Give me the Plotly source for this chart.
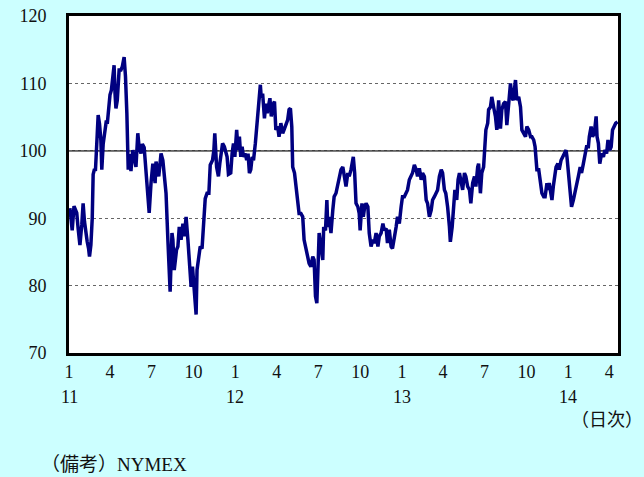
import pandas as pd
import plotly.graph_objects as go

# WTI crude oil futures (NYMEX), daily, USD per barrel.
# days: elapsed days since 2011-01-01
days = [
    2, 7, 11, 17, 20, 24, 28, 31, 34, 37, 40, 43, 45, 48, 51, 53, 56, 58, 60, 62,
    64, 67, 70, 72, 75, 79, 82, 84, 86, 88, 90, 93, 96, 99, 101, 103, 106, 110, 114, 117,
    121, 124, 127, 130, 133, 136, 139, 140, 143, 147, 151, 154, 158, 161, 165, 169, 172, 176, 180, 184,
    189, 191, 197, 202, 206, 209, 213, 217, 222, 226, 228, 231, 236, 239, 242, 246, 250, 253, 257, 261,
    264, 268, 271, 275, 279, 281, 285, 288, 292, 295, 299, 303, 307, 310, 315, 318, 320, 324, 328, 331,
    337, 341, 347, 350, 355, 358, 361, 364, 368, 371, 374, 377, 380, 383, 387, 390, 393, 396, 399, 402,
    405, 409, 412, 415, 418, 420, 422, 425, 429, 432, 435, 438, 441, 444, 447, 451, 454, 458, 461, 465,
    469, 472, 476, 480, 483, 486, 489, 491, 495, 498, 502, 505, 509, 513, 516, 520, 524, 527, 531, 535,
    538, 541, 544, 547, 549, 553, 557, 559, 563, 566, 568, 571, 575, 579, 582, 586, 590, 593, 597, 601,
    604, 608, 612, 615, 619, 624, 627, 630, 634, 637, 639, 643, 646, 649, 652, 656, 659, 663, 667, 670,
    674, 678, 681, 685, 689, 692, 696, 699, 703, 707, 710, 714, 718, 721, 725, 729, 732, 736, 740, 743,
    747, 751, 754, 758, 762, 765, 769, 773, 776, 780, 784, 787, 791, 795, 798, 802, 806, 809, 813, 817,
    820, 824, 827, 831, 835, 837, 841, 844, 847, 851, 854, 857, 860, 864, 868, 871, 875, 879, 882, 886,
    890, 893, 897, 899, 903, 906, 910, 913, 915, 919, 921, 925, 928, 932, 936, 939, 943, 947, 950, 954,
    958, 961, 965, 969, 972, 975, 980, 983, 987, 991, 994, 998, 1002, 1005, 1009, 1013, 1016, 1020, 1023, 1027,
    1031, 1034, 1038, 1042, 1045, 1049, 1051, 1054, 1058, 1060, 1063, 1067, 1069, 1073, 1076, 1080, 1084, 1087, 1091, 1093,
    1096, 1100, 1103, 1107, 1111, 1114, 1118, 1122, 1125, 1129, 1133, 1136, 1140, 1142, 1146, 1149, 1153, 1157, 1159, 1162,
    1165, 1169, 1173, 1176, 1180, 1183, 1187, 1190, 1193, 1197, 1200, 1204,
]
price = [
    91.5, 88.2, 91.8, 90.8, 88.5, 86.0, 89.0, 92.2, 89.5, 87.5, 86.5, 85.5, 84.3, 86.0, 90.0, 96.5, 97.3, 97.0, 101.5, 102.5,
    105.3, 104.0, 101.5, 97.2, 101.0, 103.5, 104.5, 104.0, 105.8, 107.0, 108.3, 109.0, 110.5, 112.7, 108.5, 106.3, 107.5, 112.0, 112.0, 112.5,
    113.9, 111.0, 105.6, 97.2, 99.5, 97.0, 99.5, 100.1, 99.0, 97.6, 102.6, 100.5, 99.6, 101.0, 100.5, 96.5, 95.4, 90.8, 95.2, 98.1,
    95.2, 98.4, 96.2, 99.6, 98.6, 96.7, 93.7, 86.8, 79.1, 87.8, 86.8, 82.3, 85.3, 85.8, 88.7, 86.8, 89.2, 87.3, 90.2, 86.8,
    82.8, 79.8, 82.8, 79.8, 75.7, 82.3, 84.8, 85.8, 85.5, 88.7, 92.9, 93.7, 93.7, 97.9, 98.6, 100.1, 102.6, 97.6, 96.2, 98.1,
    101.1, 100.6, 99.1, 96.5, 96.7, 99.6, 101.1, 99.1, 103.1, 100.1, 102.1, 99.1, 100.6, 99.1, 99.6, 98.6, 99.6, 96.7, 97.2, 99.1,
    98.6, 101.1, 103.6, 106.5, 109.5, 109.8, 107.8, 108.5, 104.8, 107.0, 105.6, 106.5, 107.8, 105.1, 106.8, 107.3, 103.1, 103.6, 102.1, 104.1,
    102.6, 103.1, 104.1, 104.6, 106.1, 106.3, 103.6, 97.6, 96.7, 94.7, 92.2, 90.7, 90.7, 90.2, 86.8, 85.5, 84.3, 83.3, 82.8, 84.3,
    83.8, 78.4, 77.4, 84.8, 87.8, 85.8, 83.8, 88.7, 88.2, 92.7, 88.7, 90.2, 87.8, 91.2, 93.2, 93.7, 95.2, 95.7, 97.2, 97.6,
    96.2, 94.7, 96.7, 96.2, 97.2, 99.1, 96.7, 92.2, 91.7, 90.7, 88.2, 92.2, 90.2, 91.7, 92.2, 91.7, 87.8, 85.8, 86.8, 86.3,
    87.8, 85.8, 87.3, 87.8, 89.2, 88.2, 88.5, 86.3, 88.3, 85.8, 85.5, 86.8, 88.7, 90.2, 89.2, 91.7, 93.2, 93.2, 93.7, 94.2,
    95.7, 96.2, 96.7, 97.9, 97.2, 96.2, 97.4, 95.7, 96.7, 96.2, 92.7, 92.2, 90.2, 91.2, 92.7, 93.2, 93.7, 94.2, 96.2, 97.2,
    96.7, 94.2, 93.7, 91.7, 88.7, 86.5, 88.7, 92.7, 94.2, 92.7, 95.7, 96.7, 95.7, 94.2, 96.7, 96.2, 94.7, 94.2, 92.2, 95.2,
    96.2, 94.7, 97.6, 98.1, 93.7, 96.7, 97.6, 100.1, 103.1, 104.1, 106.1, 106.5, 108.0, 106.5, 105.1, 103.1, 107.5, 103.3, 106.1, 107.0,
    107.3, 103.8, 106.5, 110.0, 108.0, 107.5, 110.5, 107.5, 108.0, 106.5, 103.1, 102.6, 102.1, 103.6, 103.1, 102.1, 102.1, 101.6, 100.6, 97.2,
    97.2, 95.7, 93.7, 93.2, 93.2, 95.2, 94.2, 95.2, 93.2, 92.7, 94.7, 96.7, 97.6, 98.1, 97.2, 98.6, 99.1, 99.6, 100.1, 99.1,
    96.7, 93.7, 91.7, 92.7, 94.2, 94.7, 96.2, 97.6, 96.7, 98.1, 99.6, 100.6, 100.6, 102.1, 103.6, 102.1, 102.6, 105.1, 102.1, 101.1,
    98.1, 99.6, 99.1, 100.1, 99.6, 101.6, 100.1, 100.6, 103.1, 103.6, 104.1, 104.3,
]

start = pd.Timestamp("2011-01-01")
dates = start + pd.to_timedelta(days, unit="D")

tick_dates = pd.date_range("2011-01-01", "2014-04-01", freq="QS")
tick_labels = [str(d.month) for d in tick_dates]
year_dates = ["2011-01-01", "2012-01-01", "2013-01-01", "2014-01-01"]
year_labels = ["11", "12", "13", "14"]

serif = "Liberation Serif, Noto Sans CJK JP"
navy = "#000080"
text_color = "#111"

fig = go.Figure()
fig.add_trace(go.Scatter(
    x=dates, y=price, mode="lines",
    line=dict(color=navy, width=3.5),
    hoverinfo="skip", showlegend=False,
))

# reference level at 100
fig.add_hline(y=100, line=dict(color="black", width=1.3), layer="below")

fig.update_xaxes(
    type="date", automargin=False,
    range=["2011-01-01", "2014-04-20"],
    tickvals=tick_dates, ticktext=tick_labels,
    showgrid=False, zeroline=False,
    showline=True, linecolor="black", linewidth=3, mirror=True,
    ticks="", ticklabelstandoff=0,
    tickfont=dict(family=serif, size=18, color=text_color),
)
fig.update_yaxes(
    range=[70, 120], dtick=10, automargin=False,
    showgrid=True, gridcolor="#666", gridwidth=1, griddash="dot",
    zeroline=False,
    showline=True, linecolor="black", linewidth=3, mirror=True,
    ticks="", ticklabelstandoff=16,
    tickfont=dict(family=serif, size=18, color=text_color),
)

for d, lab in zip(year_dates, year_labels):
    fig.add_annotation(
        x=d, y=-0.13, xref="x", yref="paper", text=lab, showarrow=False,
        xanchor="center", yanchor="middle",
        font=dict(family=serif, size=18, color=text_color),
    )

fig.add_annotation(
    x=1.05, y=-0.2, xref="paper", yref="paper", text="（日次）",
    showarrow=False, xanchor="right", yanchor="middle",
    font=dict(family=serif, size=18, color=text_color),
)
fig.add_annotation(
    x=-0.055, y=-0.33, xref="paper", yref="paper", text="（備考）NYMEX",
    showarrow=False, xanchor="left", yanchor="middle",
    font=dict(family=serif, size=19, color=text_color),
)
fig.add_annotation(
    x=0.0, y=1.045, xref="paper", yref="paper", text="（ドル/バレル）",
    showarrow=False, xanchor="left", yanchor="bottom",
    font=dict(family=serif, size=18, color=text_color),
)

fig.update_layout(
    width=644, height=477,
    margin=dict(l=69, r=26, t=16, b=124),
    paper_bgcolor="#CCFFFF", plot_bgcolor="white",
)

fig.write_html("out.html")
